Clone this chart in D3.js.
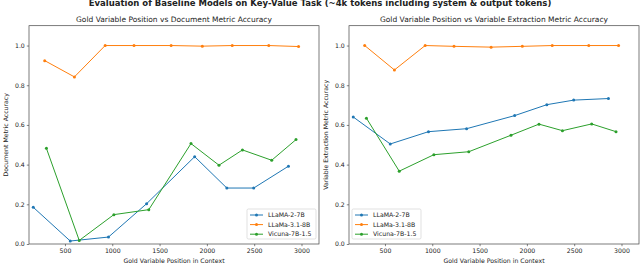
<!DOCTYPE html>
<meta charset="utf-8">
<script src="https://d3js.org/d3.v7.min.js"></script>
<style>
  body { margin: 0; background: #fff; }
  text { font-family: "DejaVu Sans", sans-serif; fill: #222; }
</style>
<svg id="chart" width="640" height="278"></svg>
<script>

// Data
var models = ["LLaMA-2-7B", "LLaMa-3.1-8B", "Vicuna-7B-1.5"];
var xLlama2  = [165, 556, 960, 1363, 1871, 2211, 2495, 2862];
var xLlama31 = [286, 600, 925, 1230, 1622, 1952, 2268, 2654, 2969];
var xVicuna  = [304, 651, 1017, 1386, 1832, 2128, 2376, 2685, 2942];

var docLlama2  = [0.185, 0.015, 0.035, 0.203, 0.44, 0.282, 0.282, 0.392];
var docLlama31 = [0.924, 0.842, 1.0, 1.0, 1.0, 0.997, 1.0, 1.0, 0.995];
var docVicuna  = [0.482, 0.018, 0.148, 0.173, 0.506, 0.397, 0.474, 0.422, 0.526];

var extLlama2  = [0.64, 0.504, 0.566, 0.581, 0.647, 0.702, 0.725, 0.733];
var extLlama31 = [1.0, 0.877, 1.0, 0.996, 0.992, 0.996, 1.0, 1.0, 1.0];
var extVicuna  = [0.634, 0.367, 0.450, 0.465, 0.548, 0.604, 0.571, 0.605, 0.566];

var xTicks = [500, 1000, 1500, 2000, 2500, 3000];
var yTicks = [0, 0.2, 0.4, 0.6, 0.8, 1.0];

var colors = ["#1f77b4", "#ff7f0e", "#2ca02c"];

var svg = d3.select("#chart");

// suptitle (cut at the top edge, as in the original)
svg.append("text")
    .attr("x", 320).attr("y", 6)
    .attr("text-anchor", "middle")
    .style("font-size", "8.5px")
    .style("font-weight", "bold")
    .text("Evaluation of Baseline Models on Key-Value Task (~4k tokens including system & output tokens)");

var panels = [
  { left: 29, title: "Gold Variable Position vs Document Metric Accuracy",
    ylabel: "Document Metric Accuracy",
    series: [[xLlama2, docLlama2], [xLlama31, docLlama31], [xVicuna, docVicuna]],
    legendX: 247 },
  { left: 349, title: "Gold Variable Position vs Variable Extraction Metric Accuracy",
    ylabel: "Variable Extraction Metric Accuracy",
    series: [[xLlama2, extLlama2], [xLlama31, extLlama31], [xVicuna, extVicuna]],
    legendX: 352 }
];

var plotTop = 25.7, plotBottom = 244, pw = 290;

panels.forEach(function(p) {
  var x = d3.scaleLinear().domain([120, 3185]).range([p.left, p.left + pw]);
  var y = d3.scaleLinear().domain([0, 1.1]).range([plotBottom, plotTop]);

  var g = svg.append("g");

  // axes
  var xa = g.append("g")
      .attr("transform", "translate(0," + plotBottom + ")")
      .call(d3.axisBottom(x).tickValues(xTicks).tickFormat(d3.format("d")).tickSize(2.2).tickPadding(2));
  var ya = g.append("g")
      .attr("transform", "translate(" + p.left + ",0)")
      .call(d3.axisLeft(y).tickValues(yTicks).tickFormat(d3.format(".1f")).tickSize(2.2).tickPadding(2));
  [xa, ya].forEach(function(a) {
    a.select(".domain").remove();
    a.selectAll("line").attr("stroke", "#333").attr("stroke-width", 0.6);
    a.selectAll("text").style("font-size", "6.2px").style("font-family", "DejaVu Sans").attr("fill", "#222");
  });

  // frame
  g.append("rect")
      .attr("x", p.left).attr("y", plotTop)
      .attr("width", pw).attr("height", plotBottom - plotTop)
      .attr("fill", "none").attr("stroke", "#444").attr("stroke-width", 0.7);

  // lines
  var line = d3.line()
      .x(function(d) { return x(d[0]); })
      .y(function(d) { return y(d[1]); });

  p.series.forEach(function(s, i) {
    var pts = d3.zip(s[0], s[1]);
    g.append("path")
        .datum(pts)
        .attr("d", line)
        .attr("fill", "none")
        .attr("stroke", colors[i])
        .attr("stroke-width", 1);
    g.selectAll(".pt" + i)
      .data(pts)
      .enter()
      .append("circle")
        .attr("cx", function(d) { return x(d[0]); })
        .attr("cy", function(d) { return y(d[1]); })
        .attr("r", 1.5)
        .attr("fill", colors[i]);
  });

  // titles
  g.append("text")
      .attr("x", p.left + pw / 2).attr("y", 22)
      .attr("text-anchor", "middle")
      .style("font-size", "7.5px")
      .text(p.title);
  g.append("text")
      .attr("x", p.left + pw / 2).attr("y", 263)
      .attr("text-anchor", "middle")
      .style("font-size", "6.2px")
      .text("Gold Variable Position in Context");
  g.append("text")
      .attr("transform", "translate(" + (p.left - 21) + "," + ((plotTop + plotBottom) / 2) + ") rotate(-90)")
      .attr("text-anchor", "middle")
      .style("font-size", "6.2px")
      .text(p.ylabel);

  // legend
  var lg = g.append("g").attr("transform", "translate(" + p.legendX + ",209)");
  lg.append("rect")
      .attr("width", 69).attr("height", 30).attr("rx", 1.5)
      .attr("fill", "#fff").attr("fill-opacity", 0.8)
      .attr("stroke", "#ccc").attr("stroke-width", 0.6);
  models.forEach(function(m, i) {
    var yy = 6 + i * 9.6;
    lg.append("line")
        .attr("x1", 3).attr("x2", 16).attr("y1", yy).attr("y2", yy)
        .attr("stroke", colors[i]).attr("stroke-width", 1);
    lg.append("circle").attr("cx", 9.5).attr("cy", yy).attr("r", 1.5).attr("fill", colors[i]);
    lg.append("text")
        .attr("x", 21).attr("y", yy + 2.1)
        .style("font-size", "6.2px")
        .text(m);
  });
});

</script>
